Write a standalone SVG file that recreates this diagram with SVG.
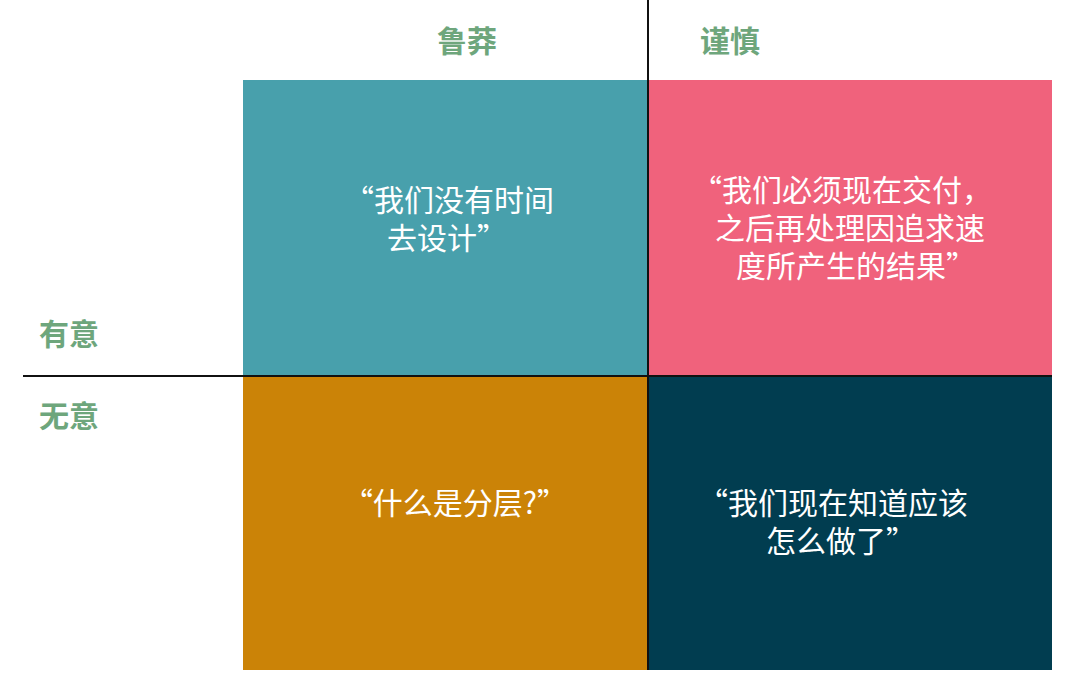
<svg xmlns="http://www.w3.org/2000/svg" width="1080" height="684" viewBox="0 0 1080 684">
<style>
.hdr{font-family:"Noto Sans CJK SC","Noto Sans",sans-serif;font-size:30px;font-weight:bold;fill:#6EA67C;text-anchor:middle}
.lbl{font-family:"Noto Sans CJK SC","Noto Sans",sans-serif;font-size:30px;font-weight:bold;fill:#6EA67C}
.q{font-family:"Noto Sans CJK SC","Noto Sans",sans-serif;font-size:30px;fill:#ffffff;text-anchor:middle}
.ax{stroke:#111;stroke-width:2}
</style>
<rect width="1080" height="684" fill="#fff"/>
<g id="q-reckless-deliberate">
<rect x="243" y="80" width="405" height="296" fill="#48A0AC"/>
<text class="q" x="449" y="211">“我们没有时间</text>
<text class="q" x="447" y="249">去设计”</text>
</g>
<g id="q-prudent-deliberate">
<rect x="648" y="80" width="404" height="296" fill="#F0627C"/>
<text class="q" x="842" y="201">“我们必须现在交付，</text>
<text class="q" x="850" y="239">之后再处理因追求速</text>
<text class="q" x="856" y="277">度所产生的结果”</text>
</g>
<g id="q-reckless-inadvertent">
<rect x="243" y="376" width="405" height="294" fill="#CB8307"/>
<text class="q" x="455" y="514">“什么是分层?”</text>
</g>
<g id="q-prudent-inadvertent">
<rect x="648" y="376" width="404" height="294" fill="#013D50"/>
<text class="q" x="833" y="514">“我们现在知道应该</text>
<text class="q" x="841" y="552">怎么做了”</text>
</g>
<g id="headers">
<text class="hdr" x="467" y="52">鲁莽</text>
<text class="hdr" x="730" y="52">谨慎</text>
<text class="lbl" x="39" y="345">有意</text>
<text class="lbl" x="39" y="427">无意</text>
</g>
<g id="connectors">
<line class="ax" x1="23" y1="376" x2="1052" y2="376"/>
<line class="ax" x1="648" y1="0" x2="648" y2="670"/>
</g>
</svg>
